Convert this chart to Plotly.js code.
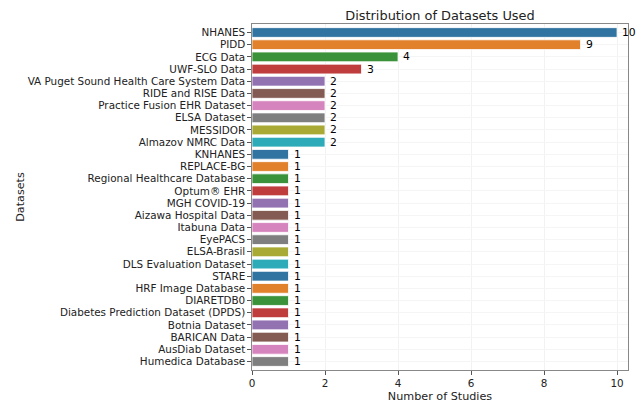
<!DOCTYPE html>
<html>
<head>
<meta charset="utf-8">
<script src="https://cdn.plot.ly/plotly-3.0.1.min.js"></script>
<style>html,body{margin:0;padding:0;background:#fff;}#chart{width:641px;height:404px;}</style>
</head>
<body>
<div id="chart"></div>
<script>
const datasets = ["NHANES","PIDD","ECG Data","UWF-SLO Data","VA Puget Sound Health Care System Data","RIDE and RISE Data","Practice Fusion EHR Dataset","ELSA Dataset","MESSIDOR","Almazov NMRC Data","KNHANES","REPLACE-BG","Regional Healthcare Database","Optum® EHR","MGH COVID-19","Aizawa Hospital Data","Itabuna Data","EyePACS","ELSA-Brasil","DLS Evaluation Dataset","STARE","HRF Image Database","DIARETDB0","Diabetes Prediction Dataset (DPDS)","Botnia Dataset","BARICAN Data","AusDiab Dataset","Humedica Database"];
const studies = [10,9,4,3,2,2,2,2,2,2,1,1,1,1,1,1,1,1,1,1,1,1,1,1,1,1,1,1];
const palette = ["#3274a1","#e1812c","#3a923a","#c03d3e","#9372b2","#845b53","#d684bd","#7f7f7f","#a9aa35","#2eabb8"];
const xTicks = [0,2,4,6,8,10];

const colors = datasets.map((d,i)=>palette[i%palette.length]);
const trace = {
  type:'bar', orientation:'h',
  y: datasets, x: studies,
  marker:{color:colors, line:{color:'rgba(255,255,255,0.8)', width:1}},
  width:0.8,
  hoverinfo:'x+y'
};
const valueLabels = datasets.map((d,i)=>({
  x: studies[i], y: d, xref:'x', yref:'y',
  text: String(studies[i]), showarrow:false,
  xanchor:'left', yanchor:'middle', xshift:3,
  font:{family:'DejaVu Sans', size:10.8, color:'#000'}
}));
const layout = {
  width:641, height:404,
  margin:{l:252, r:13, t:24, b:34},
  paper_bgcolor:'#fff', plot_bgcolor:'#fff',
  font:{family:'DejaVu Sans', size:10.4, color:'#222'},
  title:{text:'Distribution of Datasets Used', font:{family:'DejaVu Sans', size:12.9, color:'#222'},
    xref:'paper', x:0.5, xanchor:'center', yref:'container', y:0.962, yanchor:'middle'},
  showlegend:false,
  annotations: valueLabels,
  xaxis:{range:[0,10.3], tickvals:xTicks, ticktext:xTicks.map(String), ticks:'outside', ticklen:3.5, tickcolor:'#555',
    showgrid:true, gridcolor:'#f2f2f2', gridwidth:1, zeroline:false,
    showline:true, linecolor:'#888', linewidth:1.2, mirror:true,
    title:{text:'Number of Studies', font:{size:11.2, color:'#222'}, standoff:4},
    tickfont:{size:10.4, color:'#222'}},
  yaxis:{type:'category', autorange:'reversed', categoryorder:'array', categoryarray:datasets,
    ticks:'outside', ticklen:3.5, tickcolor:'#555',
    showgrid:true, gridcolor:'#f5f5f5', gridwidth:1, zeroline:false,
    showline:true, linecolor:'#888', linewidth:1.2, mirror:true,
    title:{text:'Datasets', font:{size:11.2, color:'#222'}, standoff:0},
    tickfont:{size:10.4, color:'#222'}}
};
Plotly.newPlot('chart',[trace],layout,{displayModeBar:false, staticPlot:true});
</script>
</body>
</html>
